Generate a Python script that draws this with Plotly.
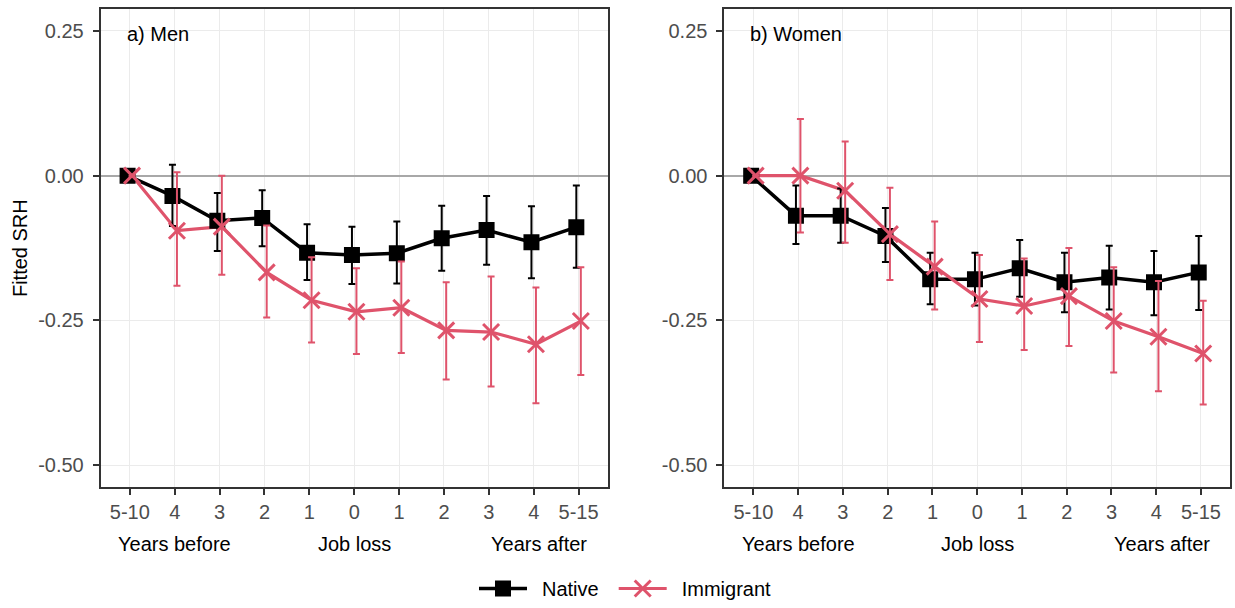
import numpy as np
import plotly.graph_objects as go

categories = ["5-10", "4", "3", "2", "1", "0", "1", "2", "3", "4", "5-15"]
y_ticks = [0.25, 0.0, -0.25, -0.50]
y_tick_labels = ["0.25", "0.00", "-0.25", "-0.50"]

men_native = [0, -0.035, -0.078, -0.073, -0.133, -0.137, -0.134, -0.108, -0.094, -0.115, -0.089]
men_native_lo = [0, -0.087, -0.130, -0.122, -0.180, -0.187, -0.186, -0.164, -0.154, -0.177, -0.159]
men_native_hi = [0, 0.019, -0.030, -0.025, -0.084, -0.088, -0.079, -0.052, -0.035, -0.053, -0.017]

men_imm = [0, -0.095, -0.088, -0.167, -0.215, -0.235, -0.228, -0.267, -0.270, -0.291, -0.251]
men_imm_lo = [0, -0.190, -0.171, -0.245, -0.288, -0.308, -0.306, -0.352, -0.364, -0.393, -0.344]
men_imm_hi = [0, 0.006, 0.000, -0.086, -0.141, -0.160, -0.148, -0.184, -0.174, -0.193, -0.158]

women_native = [0, -0.069, -0.069, -0.104, -0.179, -0.179, -0.160, -0.184, -0.176, -0.184, -0.167]
women_native_lo = [0, -0.118, -0.116, -0.149, -0.222, -0.224, -0.209, -0.236, -0.231, -0.241, -0.232]
women_native_hi = [0, -0.017, -0.022, -0.056, -0.133, -0.133, -0.111, -0.133, -0.121, -0.130, -0.104]

women_imm = [0, 0.000, -0.026, -0.101, -0.157, -0.213, -0.225, -0.208, -0.251, -0.278, -0.307]
women_imm_lo = [0, -0.098, -0.116, -0.180, -0.231, -0.287, -0.301, -0.294, -0.340, -0.372, -0.395]
women_imm_hi = [0, 0.098, 0.059, -0.021, -0.079, -0.137, -0.143, -0.125, -0.158, -0.182, -0.216]

panel_labels = ["a) Men", "b) Women"]
period_labels = ["Years before", "Job loss", "Years after"]
period_pos = [1, 5, 9.12]
series_names = ["Native", "Immigrant"]

BLACK = "#000000"
RED = "#DF536B"
FONT = "Liberation Sans, Arial, sans-serif"
FS = 20
dodge = 0.05
SP = "\u2002"

fig = go.Figure()
xpos = np.arange(len(categories))

panels = [
    ("x", "y", (men_native, men_native_lo, men_native_hi), (men_imm, men_imm_lo, men_imm_hi)),
    ("x2", "y2", (women_native, women_native_lo, women_native_hi), (women_imm, women_imm_lo, women_imm_hi)),
]

for xa, ya, nat, imm in panels:
    for (vals, lo, hi), color, off, lw in [(nat, BLACK, -dodge, 3.5), (imm, RED, dodge, 3.2)]:
        fig.add_trace(go.Scatter(x=xpos + off, y=vals, mode="lines", xaxis=xa, yaxis=ya,
                                 line=dict(color=color, width=lw), showlegend=False, hoverinfo="skip"))
    for (vals, lo, hi), color, off, sym, size in [(nat, BLACK, -dodge, "square", 13),
                                                   (imm, RED, dodge, "x-thin", 16)]:
        v = np.array(vals); l = np.array(lo); h = np.array(hi)
        fig.add_trace(go.Scatter(
            x=xpos + off, y=v, mode="markers", xaxis=xa, yaxis=ya, showlegend=False,
            marker=dict(symbol=sym, size=size, color=color, line=dict(color=color, width=3)),
            error_y=dict(type="data", symmetric=False, array=h - v, arrayminus=v - l,
                         color=color, thickness=2, width=3.5)))

# legend entries
for name, color, sym, size, lw, pad in [(series_names[0], BLACK, "square", 13, 3.5, SP),
                                        (series_names[1], RED, "x-thin", 16, 3.2, "")]:
    fig.add_trace(go.Scatter(x=[None], y=[None], mode="lines+markers", name=SP + name + pad,
                             line=dict(color=color, width=lw),
                             marker=dict(symbol=sym, size=size, color=color, line=dict(color=color, width=3))))

axis_common = dict(
    showline=True, mirror=True, linecolor="#333333", linewidth=1.8,
    showgrid=True, gridcolor="#EBEBEB", gridwidth=1.2,
    ticks="outside", ticklen=6, tickcolor="#333333", tickwidth=1.5,
    tickfont=dict(family=FONT, size=FS, color="#4D4D4D"),
    zeroline=False,
)

xaxis_common = dict(axis_common, range=[-0.65, 10.65], tickmode="array",
                    tickvals=list(xpos), ticktext=categories)
yaxis_common = dict(axis_common, range=[-0.5375, 0.2875], tickmode="array",
                    tickvals=y_ticks, ticktext=y_tick_labels,
                    zeroline=True, zerolinecolor="#A8A8A8", zerolinewidth=1.6,
                    ticklabelstandoff=5)

fig.update_layout(
    width=1235, height=608,
    margin=dict(l=0, r=0, t=0, b=0),
    paper_bgcolor="white", plot_bgcolor="white",
    font=dict(family=FONT, size=FS, color="black"),
    xaxis=dict(xaxis_common, domain=[0.0815, 0.4921], anchor="y"),
    yaxis=dict(yaxis_common, domain=[0.199, 0.985], anchor="x"),
    xaxis2=dict(xaxis_common, domain=[0.5865, 0.996], anchor="y2"),
    yaxis2=dict(yaxis_common, domain=[0.199, 0.985], anchor="x2"),
    legend=dict(orientation="h", x=0.3838, xanchor="left", y=0.0, yanchor="bottom",
                font=dict(family=FONT, size=FS, color="black"), itemwidth=48,
                bgcolor="rgba(0,0,0,0)"),
    showlegend=True,
)

annotations = []
for i, (xr, lab) in enumerate(zip(["x", "x2"], panel_labels)):
    annotations.append(dict(x=-0.65, y=0.2875, xref=xr, yref="y" if i == 0 else "y2",
                            text=lab, showarrow=False, xanchor="left", yanchor="top",
                            xshift=24, yshift=-12, font=dict(family=FONT, size=FS, color="black")))
    for p, t in zip(period_pos, period_labels):
        annotations.append(dict(x=p, y=0.105, xref=xr, yref="paper", text=t, showarrow=False,
                                xanchor="center", yanchor="middle",
                                font=dict(family=FONT, size=FS, color="black")))
annotations.append(dict(x=0.0162, y=0.592, xref="paper", yref="paper", text="Fitted SRH",
                        textangle=-90, showarrow=False, xanchor="center", yanchor="middle",
                        font=dict(family=FONT, size=FS, color="black")))
fig.update_layout(annotations=annotations)

fig.write_html("out.html")
